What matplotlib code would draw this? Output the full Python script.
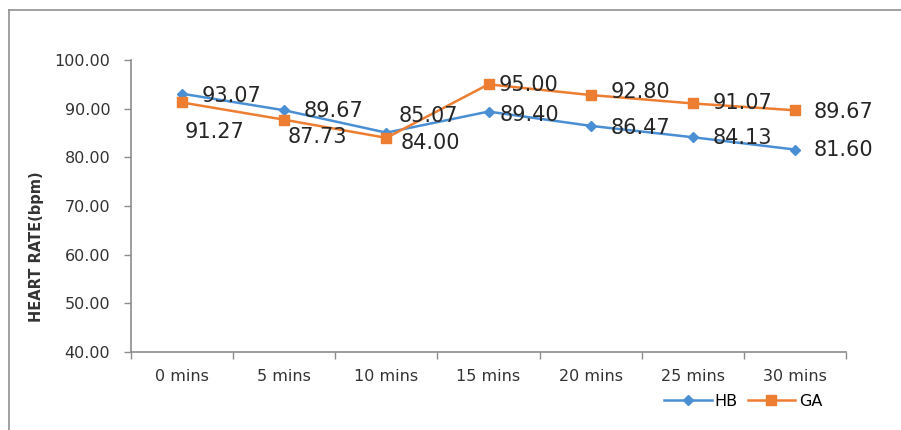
import matplotlib.pyplot as plt
from matplotlib.lines import Line2D

times = ['0 mins', '5 mins', '10 mins', '15 mins', '20 mins', '25 mins', '30 mins']
hb = [93.07, 89.67, 85.07, 89.40, 86.47, 84.13, 81.60]
ga = [91.27, 87.73, 84.00, 95.00, 92.80, 91.07, 89.67]

# label offsets in pixels (dx to left edge of text, dy to its centre)
hb_off = [(20, -2), (19, -1), (12, 17), (11, -3), (20, -2), (20, -1), (19, 0)]
ga_off = [(3, -30), (3, -17), (14, -5), (10, -1), (20, 3), (20, 0), (19, -2)]

blue = '#4a8fd4'
orange = '#ed7d31'
axis_grey = '#8c8c8c'

fig = plt.figure(figsize=(9.01, 4.30), dpi=100)
ax = fig.add_axes([131 / 901, 1 - 352 / 430, 715 / 901, 292 / 430])

x = list(range(len(times)))
ax.plot(x, hb, color=blue, lw=1.8, marker='D', ms=5, label='HB')
ax.plot(x, ga, color=orange, lw=1.8, marker='s', ms=6.5, label='GA')

for i in x:
    ax.annotate(f'{hb[i]:.2f}', (i, hb[i]), xytext=hb_off[i], textcoords='offset pixels',
                ha='left', va='center', fontsize=15, color='#262626')
    ax.annotate(f'{ga[i]:.2f}', (i, ga[i]), xytext=ga_off[i], textcoords='offset pixels',
                ha='left', va='center', fontsize=15, color='#262626')

ax.set_xlim(-0.5, len(times) - 0.5)
ax.set_ylim(40, 100)
ax.set_yticks(range(40, 101, 10))
ax.set_yticklabels([f'{v:.2f}' for v in range(40, 101, 10)])

# category labels sit between the boundary tick marks
ax.set_xticks([i - 0.5 for i in range(len(times) + 1)])
ax.set_xticklabels([])
ax.set_xticks(x, minor=True)
ax.set_xticklabels(times, minor=True)
ax.tick_params(axis='x', which='major', length=5, color=axis_grey, width=1)
ax.tick_params(axis='x', which='minor', length=0, pad=12, labelsize=11.5, labelcolor='#333333')
ax.tick_params(axis='y', length=5, color=axis_grey, width=1, labelsize=11.5,
               labelcolor='#333333', pad=10)

for s in ['top', 'right']:
    ax.spines[s].set_visible(False)
for s in ['left', 'bottom']:
    ax.spines[s].set_color(axis_grey)
    ax.spines[s].set_linewidth(1.2)

ax.set_ylabel('HEART RATE(bpm)', fontsize=10.5, fontweight='bold', color='#333333')
ax.yaxis.set_label_coords(-0.122, 0.36)

ax.legend(loc='upper right', bbox_to_anchor=(830 / 901, 1 - 386 / 430), bbox_transform=fig.transFigure,
          ncol=2, frameon=False, fontsize=11.5, handlelength=3.0, handletextpad=0.2,
          columnspacing=0.6, borderpad=0)

# outer frame: left and top edges only
fig.add_artist(Line2D([9 / 901, 9 / 901], [0, 1 - 10 / 430], transform=fig.transFigure,
                      color='#909090', lw=1.2))
fig.add_artist(Line2D([9 / 901, 1], [1 - 10 / 430, 1 - 10 / 430], transform=fig.transFigure,
                      color='#909090', lw=1.2))

fig.savefig('out.png', dpi=100)
